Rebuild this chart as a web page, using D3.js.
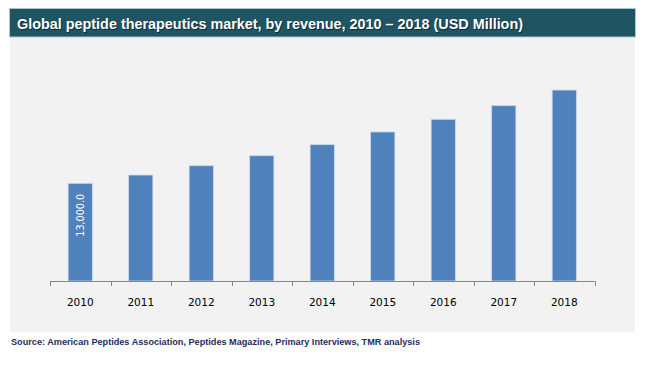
<!DOCTYPE html>
<html><head><meta charset="utf-8">
<script src="https://cdn.jsdelivr.net/npm/d3@7"></script>
<style>body{margin:0;background:#fff}svg{display:block}</style>
</head><body>
<svg id="c" width="650" height="366"></svg>
<script>
const years = ["2010","2011","2012","2013","2014","2015","2016","2017","2018"];
const revenue = [13000, 14100, 15340, 16670, 18140, 19830, 21520, 23330, 25410];
const dataLabels = ["13,000.0", "", "", "", "", "", "", "", ""];
const titleText = "Global peptide therapeutics market, by revenue, 2010 \u2013 2018 (USD Million)";
const sourceText = "Source: American Peptides Association, Peptides Magazine, Primary Interviews, TMR analysis";

const svg = d3.select("#c");
// panel
svg.append("rect").attr("x",10).attr("y",37.5).attr("width",625).attr("height",294.5).attr("fill","#f2f2f2");
// header
svg.append("rect").attr("x",9.5).attr("y",8.5).attr("width",626).attr("height",28.5)
  .attr("fill","#1f5563").attr("stroke","#a9c6d3").attr("stroke-width",1);
svg.append("text").attr("x",17).attr("y",28.5).text(titleText)
  .attr("fill","#000").attr("opacity",0.5)
  .attr("font-family","Liberation Sans, Arial, sans-serif").attr("font-weight","bold").attr("font-size",15)
  .attr("textLength",506).attr("lengthAdjust","spacingAndGlyphs").attr("transform","translate(1,1)");
svg.append("text").attr("x",17).attr("y",28.5).text(titleText)
  .attr("fill","#fff")
  .attr("font-family","Liberation Sans, Arial, sans-serif").attr("font-weight","bold").attr("font-size",15)
  .attr("textLength",506).attr("lengthAdjust","spacingAndGlyphs");

const x = d3.scaleBand().domain(years).range([50, 594.5]).paddingInner(0.6).paddingOuter(0.3);
const y = d3.scaleLinear().domain([0, 30000]).range([281, 281 - 30000/133.06]);

svg.selectAll("rect.bar").data(years).join("rect").attr("class","bar")
  .attr("x", d => x(d)).attr("width", x.bandwidth())
  .attr("y", (d,i) => y(revenue[i])).attr("height", (d,i) => y(0) - y(revenue[i]))
  .attr("fill","#4f81bd").attr("stroke","#c9d8ec").attr("stroke-width",0.8);

// data labels
svg.selectAll("text.dl").data(years).join("text").attr("class","dl")
  .attr("transform",(d,i) => `translate(${x(d)+x.bandwidth()/2+3.5},${y(revenue[i]) + 32}) rotate(-90)`)
  .attr("text-anchor","middle").attr("fill","#fff")
  .attr("font-family","DejaVu Sans, Verdana, sans-serif").attr("font-size",9.6)
  .text((d,i) => dataLabels[i]);

// axis
const step = x.step();
const edges = d3.range(years.length + 1).map(i => 50 + i * step);
const ax = svg.append("g");
ax.append("line").attr("x1",50).attr("x2",594.5).attr("y1",281.5).attr("y2",281.5).attr("stroke","#868686").attr("stroke-width",1);
ax.selectAll("line.t").data(edges).join("line").attr("class","t")
  .attr("x1",d=>Math.round(d)+0.5).attr("x2",d=>Math.round(d)+0.5).attr("y1",281).attr("y2",286)
  .attr("stroke","#868686");
ax.selectAll("text").data(years).join("text")
  .attr("x", d => x(d) + x.bandwidth()/2).attr("y", 306)
  .attr("text-anchor","middle").attr("fill","#000")
  .attr("font-family","DejaVu Sans, Verdana, sans-serif").attr("font-size",10.5)
  .text(d => d);

// source
svg.append("text").attr("x",11).attr("y",345).text(sourceText)
  .attr("fill","#1f2d5c").attr("font-family","Liberation Sans, Arial, sans-serif").attr("font-weight","bold")
  .attr("font-size",9).attr("textLength",409).attr("lengthAdjust","spacingAndGlyphs");
</script>
</body></html>
